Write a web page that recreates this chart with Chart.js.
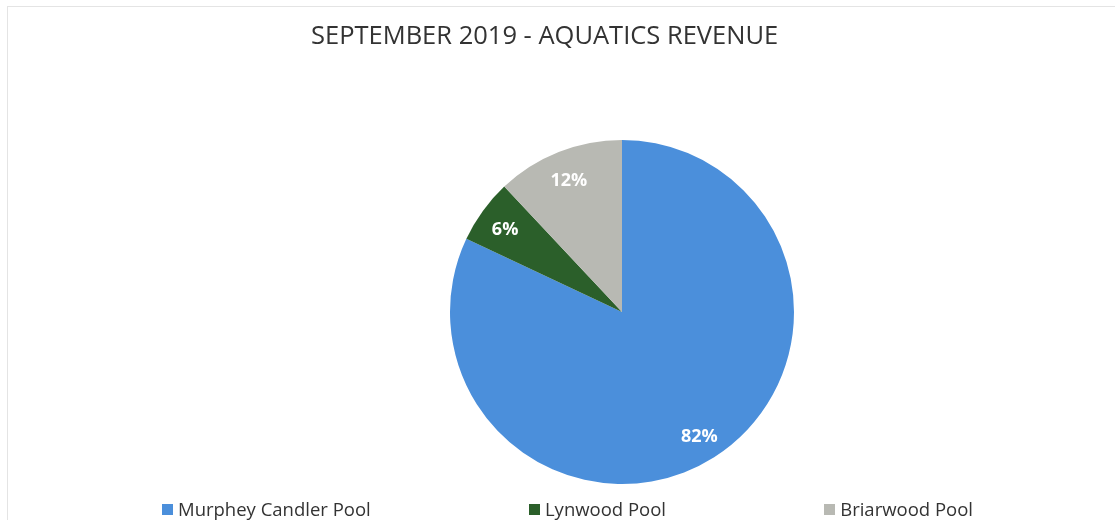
<!DOCTYPE html>
<html>
<head>
<meta charset="utf-8">
<title>Aquatics Revenue</title>
<script src="https://cdn.jsdelivr.net/npm/chart.js@4.4.1/dist/chart.umd.min.js"></script>
<style>
    body {
        margin: 0;
        background: #ffffff;
    }
    .chart-box {
        position: relative;
        width: 1115px;
        height: 520px;
        overflow: hidden;
    }
    .frame {
        position: absolute;
        left: 7px;
        top: 6px;
        right: 0;
        bottom: 0;
        border-top: 1px solid #e4e4e4;
        border-left: 1px solid #e4e4e4;
        pointer-events: none;
    }
    #legend {
        position: absolute;
        left: 162px;
        width: 811px;
        top: 496px;
        display: flex;
        justify-content: space-between;
        font-family: "Open Sans", sans-serif;
        font-size: 18.5px;
        color: #333333;
        line-height: 26px;
    }
    .legend-item {
        display: flex;
        align-items: center;
    }
    .legend-box {
        width: 11px;
        height: 11px;
        margin-right: 5px;
    }
</style>
</head>
<body>
<div class="chart-box">
    <div class="frame"></div>
    <canvas id="chart"></canvas>
    <div id="legend"></div>
</div>

<script>
const pools = ['Murphey Candler Pool', 'Lynwood Pool', 'Briarwood Pool'];
const revenueShare = [82, 6, 12];
const sliceColors = ['#4b8fdb', '#2b5f2a', '#b8b9b3'];
const chartTitle = 'SEPTEMBER 2019 - AQUATICS REVENUE';

// white percent labels inside each slice
const sliceLabels = {
    id: 'sliceLabels',
    afterDatasetsDraw(chart) {
        const ctx = chart.ctx;
        const meta = chart.getDatasetMeta(0);
        ctx.save();
        ctx.font = 'bold 18px "Open Sans", sans-serif';
        ctx.fillStyle = '#ffffff';
        ctx.textAlign = 'center';
        ctx.textBaseline = 'middle';
        meta.data.forEach((arc, i) => {
            const p = arc.getProps(['x', 'y', 'startAngle', 'endAngle', 'outerRadius'], true);
            const mid = (p.startAngle + p.endAngle) / 2;
            const r = p.outerRadius * 0.84;
            ctx.fillText(revenueShare[i] + '%', p.x + Math.cos(mid) * r, p.y + Math.sin(mid) * r + 3);
        });
        ctx.restore();
    }
};

const ctx = document.getElementById('chart').getContext('2d');
const myChart = new Chart(ctx, {
    type: 'pie',
    data: {
        labels: pools,
        datasets: [{
            data: revenueShare,
            backgroundColor: sliceColors,
            borderWidth: 0
        }]
    },
    options: {
        responsive: true,
        maintainAspectRatio: false,
        animation: false,
        layout: {
            padding: { left: 311, right: 182, top: 0, bottom: 36 }
        },
        plugins: {
            legend: { display: false },
            tooltip: { enabled: false },
            title: {
                display: true,
                text: chartTitle,
                align: 'start',
                color: '#333333',
                font: { family: '"Open Sans", sans-serif', size: 25.5, weight: 'normal', lineHeight: 1.2 },
                padding: { top: 21, bottom: 88.4 }
            }
        }
    },
    plugins: [sliceLabels]
});

// legend row under the pie
document.getElementById('legend').innerHTML = pools.map((name, i) => `
    <div class="legend-item">
        <span class="legend-box" style="background:${sliceColors[i]}"></span>
        <span>${name}</span>
    </div>`).join('');
</script>
</body>
</html>
